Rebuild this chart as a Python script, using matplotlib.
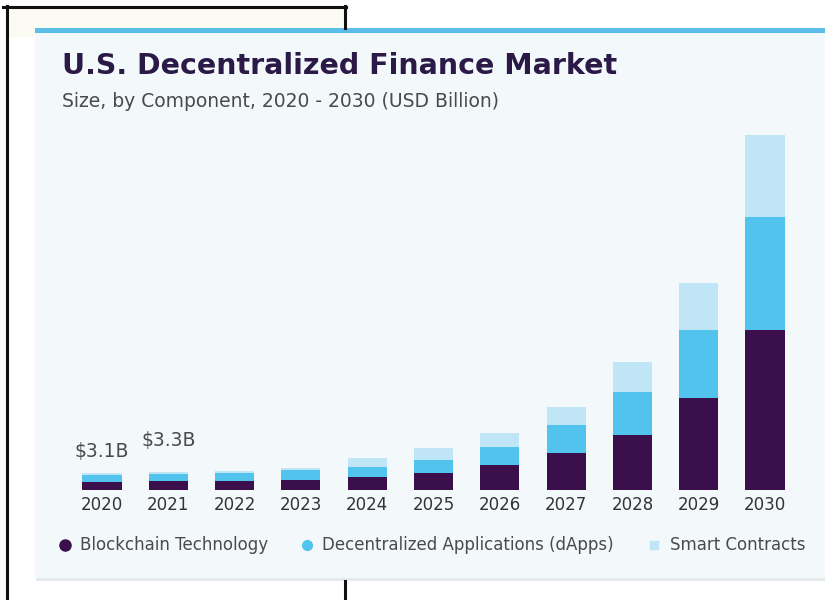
import numpy as np
import matplotlib
matplotlib.use("Agg")
import matplotlib.pyplot as plt
from matplotlib.patches import Rectangle
from matplotlib.lines import Line2D

# U.S. decentralized finance market by component, USD billion
years = ["2020", "2021", "2022", "2023", "2024", "2025", "2026", "2027", "2028", "2029", "2030"]
blockchain = [1.50, 1.60, 1.70, 1.85, 2.40, 3.15, 4.60, 6.85, 10.2, 17.0, 29.6]
dapps = [1.25, 1.30, 1.40, 1.85, 1.85, 2.40, 3.35, 5.20, 8.00, 12.6, 20.9]
smart = [0.35, 0.40, 0.45, 0.40, 1.65, 2.20, 2.60, 3.35, 5.55, 8.70, 15.2]
value_labels = {0: "$3.1B", 1: "$3.3B"}
series_names = ["Blockchain Technology", "Decentralized Applications (dApps)", "Smart Contracts"]

C_BLOCK = "#3a0f4b"
C_DAPPS = "#52c3ec"
C_SMART = "#bfe5f6"
C_TITLE = "#2b1948"
C_TEXT = "#4a4a4a"

fig = plt.figure(figsize=(8.25, 6.0), dpi=100, facecolor="white")

# background layer in pixel coordinates (y down)
bg = fig.add_axes([0, 0, 1, 1])
bg.set_xlim(0, 825)
bg.set_ylim(600, 0)
bg.axis("off")
bg.add_patch(Rectangle((7, 7), 338, 30, facecolor="#fbfbf4", edgecolor="none"))
bg.add_patch(Rectangle((36, 578), 789, 3, facecolor="#e6e9ec", edgecolor="none"))
bg.add_patch(Rectangle((35, 29), 790, 549, facecolor="#f3f8fb", edgecolor="none"))
bg.add_patch(Rectangle((35, 28), 790, 5, facecolor="#5dbde9", edgecolor="none"))
for xs, ys in [((3, 346), (6.5, 6.5)), ((6.5, 6.5), (6, 600)),
               ((345, 345), (6, 28)), ((345, 345), (581, 600))]:
    bg.add_line(Line2D(xs, ys, color="#111111", linewidth=2.2))

bg.text(62, 74, "U.S. Decentralized Finance Market", fontsize=20.5, fontweight="heavy",
        color=C_TITLE, va="baseline", ha="left", family="DejaVu Sans")
bg.text(62, 107, "Size, by Component, 2020 - 2030 (USD Billion)", fontsize=13.5,
        color=C_TEXT, va="baseline", ha="left")

# main chart
ax = fig.add_axes([49 / 825, 110 / 600, 769 / 825, 360 / 600])
ax.patch.set_alpha(0)
x = np.arange(len(years))
w = 0.59
ax.bar(x, blockchain, w, color=C_BLOCK, label=series_names[0])
b2 = np.array(blockchain)
ax.bar(x, dapps, w, bottom=b2, color=C_DAPPS, label=series_names[1])
b3 = b2 + np.array(dapps)
ax.bar(x, smart, w, bottom=b3, color=C_SMART, label=series_names[2])
totals = b3 + np.array(smart)

ax.set_xlim(-0.8, 10.8)
ax.set_ylim(0, 360 / 5.4)
for s in ax.spines.values():
    s.set_visible(False)
ax.set_yticks([])
ax.set_xticks(x)
ax.set_xticklabels(years, fontsize=12, color="#333333")
ax.tick_params(axis="x", length=0, pad=4)

label_offsets = {0: 16, 1: 23}
for i, txt in value_labels.items():
    ax.annotate(txt, (x[i], totals[i]), xytext=(0, label_offsets[i]), textcoords="offset points",
                ha="center", va="center", fontsize=13.5, color=C_TEXT)

# legend row
leg_y = 545
bg.plot([65], [leg_y], marker="o", markersize=8, color=C_BLOCK, linestyle="none")
bg.text(80, leg_y, series_names[0], fontsize=12, color=C_TEXT, va="center", ha="left")
bg.plot([307], [leg_y], marker="o", markersize=7, color=C_DAPPS, linestyle="none")
bg.text(322, leg_y, series_names[1], fontsize=12, color=C_TEXT, va="center", ha="left")
bg.plot([654], [leg_y], marker="s", markersize=6, color=C_SMART, linestyle="none")
bg.text(670, leg_y, series_names[2], fontsize=12, color=C_TEXT, va="center", ha="left")

fig.savefig("out.png", dpi=100, facecolor="white")
